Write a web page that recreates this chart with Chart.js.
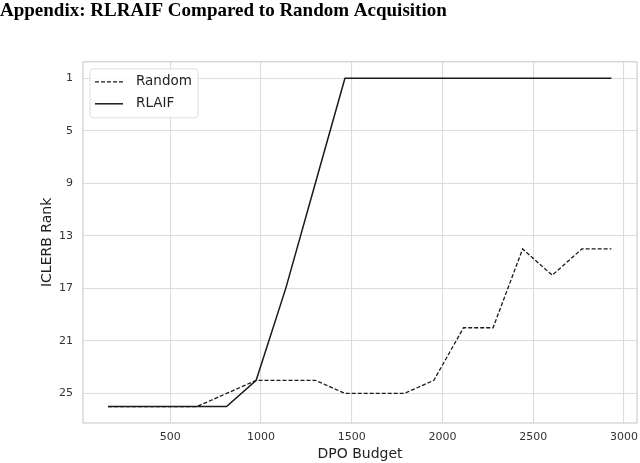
<!DOCTYPE html>
<html>
<head>
<meta charset="utf-8">
<script src="https://cdn.jsdelivr.net/npm/chart.js@4.4.1/dist/chart.umd.min.js"></script>
<style>
  html, body { margin: 0; padding: 0; background: #fff; }
  #wrap { width: 640px; height: 463px; position: relative; }
</style>
</head>
<body>
<div id="wrap"><canvas id="c" width="640" height="463"></canvas></div>
<script>
const budgets = [158, 321, 484, 647, 811, 974, 1137, 1300, 1463, 1626, 1790, 1953, 2116, 2279, 2442, 2605, 2768, 2931];
const randomRank = [26, 26, 26, 26, 25, 24, 24, 24, 25, 25, 25, 24, 20, 20, 14, 16, 14, 14];
const rlaifRank  = [26, 26, 26, 26, 26, 24, 17, 9, 1, 1, 1, 1, 1, 1, 1, 1, 1, 1];
const xTicks = [500, 1000, 1500, 2000, 2500, 3000];
const yTicks = [1, 5, 9, 13, 17, 21, 25];
const seriesLabels = ['Random', 'RLAIF'];
const titleText = 'Appendix: RLRAIF Compared to Random Acquisition';
const xTitle = 'DPO Budget';
const yTitle = 'ICLERB Rank';

const toXY = (ys) => budgets.map((x, i) => ({ x: x, y: ys[i] }));

const framePlugin = {
  id: 'frame',
  beforeDatasetsDraw(chart) {
    const { ctx, chartArea: a } = chart;
    ctx.save();
    ctx.strokeStyle = '#cfcfcf';
    ctx.lineWidth = 1.2;
    ctx.strokeRect(a.left, a.top, a.right - a.left, a.bottom - a.top);
    ctx.restore();
  }
};

const legendPlugin = {
  id: 'insideLegend',
  afterDatasetsDraw(chart) {
    const { ctx, chartArea: a } = chart;
    const bx = a.left + 7, by = a.top + 7, bw = 108, bh = 49, r = 3;
    ctx.save();
    ctx.beginPath();
    ctx.moveTo(bx + r, by);
    ctx.arcTo(bx + bw, by, bx + bw, by + bh, r);
    ctx.arcTo(bx + bw, by + bh, bx, by + bh, r);
    ctx.arcTo(bx, by + bh, bx, by, r);
    ctx.arcTo(bx, by, bx + bw, by, r);
    ctx.closePath();
    ctx.fillStyle = 'rgba(255,255,255,0.85)';
    ctx.fill();
    ctx.strokeStyle = '#dddddd';
    ctx.lineWidth = 1;
    ctx.stroke();
    chart.data.datasets.forEach((ds, i) => {
      const y = by + 13 + i * 22;
      ctx.beginPath();
      ctx.setLineDash(ds.borderDash || []);
      ctx.strokeStyle = ds.borderColor;
      ctx.lineWidth = ds.borderWidth;
      ctx.moveTo(bx + 5, y);
      ctx.lineTo(bx + 33, y);
      ctx.stroke();
      ctx.setLineDash([]);
      ctx.fillStyle = '#222';
      ctx.font = '13.5px "DejaVu Sans"';
      ctx.textBaseline = 'middle';
      ctx.textAlign = 'left';
      ctx.fillText(ds.label, bx + 46, y);
    });
    ctx.restore();
  }
};

new Chart(document.getElementById('c'), {
  type: 'line',
  data: {
    datasets: [
      {
        label: seriesLabels[0],
        data: toXY(randomRank),
        borderColor: '#1a1a1a',
        borderWidth: 1.3,
        borderDash: [4, 2],
        pointRadius: 0,
        fill: false,
        tension: 0
      },
      {
        label: seriesLabels[1],
        data: toXY(rlaifRank),
        borderColor: '#1a1a1a',
        borderWidth: 1.5,
        pointRadius: 0,
        fill: false,
        tension: 0
      }
    ]
  },
  options: {
    responsive: false,
    animation: false,
    devicePixelRatio: 1,
    layout: { padding: { left: 0, right: 3, top: 0, bottom: 0 } },
    plugins: {
      legend: { display: false },
      tooltip: { enabled: false },
      title: {
        display: true,
        text: titleText,
        align: 'start',
        color: '#000',
        font: { family: '"Liberation Serif"', size: 19, weight: 'bold', lineHeight: 1.2 },
        padding: { top: 0, bottom: 39 }
      }
    },
    scales: {
      x: {
        type: 'linear',
        min: 20,
        max: 3072,
        afterBuildTicks: (s) => { s.ticks = xTicks.map(v => ({ value: v })); },
        afterFit: (s) => { s.height = 40; s.paddingLeft = 0; s.paddingRight = 0; },
        grid: { color: '#dcdcdc', lineWidth: 1.1, drawTicks: false },
        border: { display: false },
        ticks: { color: '#333', font: { family: '"DejaVu Sans"', size: 11 }, padding: 8, maxRotation: 0,
                 callback: (v) => String(v) },
        title: { display: true, text: xTitle, color: '#222', font: { family: '"DejaVu Sans"', size: 14 }, padding: { top: 3, bottom: 0 } }
      },
      y: {
        type: 'linear',
        reverse: true,
        min: -0.25,
        max: 27.25,
        afterBuildTicks: (s) => { s.ticks = yTicks.map(v => ({ value: v })); },
        afterFit: (s) => { s.width = 83; s.paddingTop = 0; s.paddingBottom = 0; },
        grid: { color: '#dcdcdc', lineWidth: 1.1, drawTicks: false },
        border: { display: false },
        ticks: { color: '#333', font: { family: '"DejaVu Sans"', size: 11 }, padding: 10 },
        title: { display: true, text: yTitle, color: '#222', font: { family: '"DejaVu Sans"', size: 14 }, padding: { top: 39, bottom: 0 } }
      }
    }
  },
  plugins: [framePlugin, legendPlugin]
});
</script>
</body>
</html>
